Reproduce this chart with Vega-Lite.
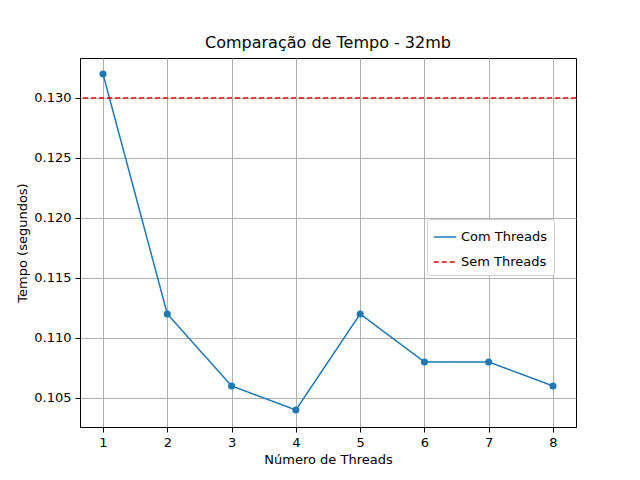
{
"$schema":"https://vega.github.io/schema/vega-lite/v6.json",
"width":496,"height":369,
"autosize":"none",
"padding":{"left":80,"top":58,"right":64,"bottom":53},
"config":{"font":"DejaVu Sans","view":{"stroke":"black"},
"axis":{"grid":true,"gridColor":"#b0b0b0","gridOpacity":1,"domainColor":"black","tickColor":"black","labelColor":"black","titleColor":"black","labelFontSize":13,"titleFontSize":13,"titleFontWeight":"normal","labelFont":"DejaVu Sans","titleFont":"DejaVu Sans","tickSize":5,"labelPadding":4}},
"title":{"text":"Comparação de Tempo - 32mb","fontSize":16,"fontWeight":"normal","font":"DejaVu Sans","color":"black","offset":7},
"data":{"values":[
{"threads":1,"tempo":0.132,"serie":"Com Threads"},
{"threads":2,"tempo":0.112,"serie":"Com Threads"},
{"threads":3,"tempo":0.106,"serie":"Com Threads"},
{"threads":4,"tempo":0.104,"serie":"Com Threads"},
{"threads":5,"tempo":0.112,"serie":"Com Threads"},
{"threads":6,"tempo":0.108,"serie":"Com Threads"},
{"threads":7,"tempo":0.108,"serie":"Com Threads"},
{"threads":8,"tempo":0.106,"serie":"Com Threads"}
]},
"layer":[
{"mark":{"type":"line","point":{"size":50,"filled":true,"opacity":1},"strokeWidth":1.5},
"encoding":{
"x":{"field":"threads","type":"quantitative","scale":{"domain":[0.642,8.358],"nice":false,"zero":false},"axis":{"values":[1,2,3,4,5,6,7,8],"title":"Número de Threads","format":"d"}},
"y":{"field":"tempo","type":"quantitative","scale":{"domain":[0.10258,0.13333],"nice":false,"zero":false},"axis":{"values":[0.105,0.11,0.115,0.12,0.125,0.13],"format":".3f","title":"Tempo (segundos)"}},
"color":{"field":"serie","type":"nominal","scale":{"domain":["Com Threads","Sem Threads"],"range":["#1f77b4","red"]},
"legend":{"title":null,"orient":"none","legendX":347,"legendY":161,"fillColor":"white","strokeColor":"#cccccc","padding":6,"cornerRadius":3,"labelFontSize":13,"symbolType":"stroke","symbolSize":500,"symbolStrokeWidth":1.5,"rowPadding":6}},
"strokeDash":{"field":"serie","type":"nominal","scale":{"domain":["Com Threads","Sem Threads"],"range":[[1,0],[5,3]]},"legend":null}
}},
{"mark":{"type":"rule","strokeWidth":1.5},
"data":{"values":[{"y":0.13,"serie":"Sem Threads"}]},
"encoding":{"y":{"field":"y","type":"quantitative"},
"color":{"field":"serie","type":"nominal"},
"strokeDash":{"field":"serie","type":"nominal"}}}
]
}
